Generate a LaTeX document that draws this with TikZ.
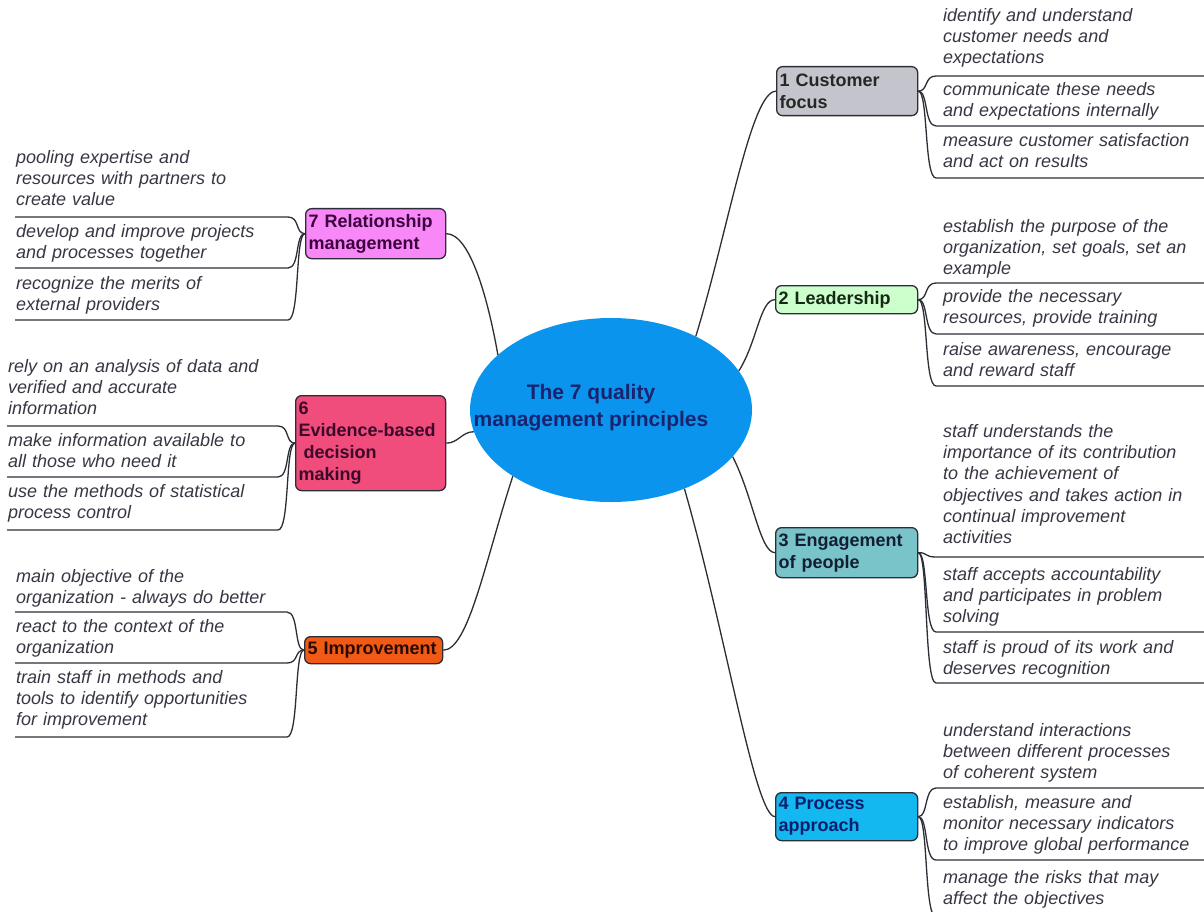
\documentclass[tikz,border=0pt]{standalone}
\usepackage{fontspec}
\setmainfont{Liberation Sans}
\usetikzlibrary{shapes.geometric}
\definecolor{linec}{RGB}{45,45,55}
\definecolor{leaftxt}{RGB}{55,55,68}
\definecolor{ellc}{RGB}{10,148,238}
\definecolor{ctxt}{RGB}{25,35,110}
\definecolor{c1}{RGB}{196,196,204}
\definecolor{c2}{RGB}{204,255,204}
\definecolor{c3}{RGB}{120,196,200}
\definecolor{c4}{RGB}{20,184,240}
\definecolor{c5}{RGB}{240,90,20}
\definecolor{c6}{RGB}{240,76,124}
\definecolor{c7}{RGB}{248,136,248}
\tikzset{
  leaf/.style={inner sep=0pt, text width=300pt, align=left,
    font=\fontsize{18}{21.2}\selectfont\itshape, text=leaftxt},
  link/.style={draw=linec, line width=1.3pt},
  topic/.style={draw=linec, line width=1.3pt, rounded corners=6pt,
    inner xsep=3pt, inner ysep=2pt, align=left, anchor=north west,
    font=\fontsize{18}{22}\selectfont\bfseries},
}
\newcommand{\rleaf}[5]{%
  \node[leaf, anchor=base west] (#1) at (943,#3+5.5) {#5};
  \coordinate (#1s) at (936,#4);
  \coordinate (#1e) at (1204,#4);
  \draw[link] (#2.east) to[out=0,in=180,out distance=10pt,in distance=12pt] (#1s) -- (#1e);
}
\newcommand{\lleaf}[7]{%
  \node[leaf, anchor=base west] (#1) at (#5+1,#3+5.5) {#7};
  \coordinate (#1s) at (#6,#4);
  \coordinate (#1e) at (#5,#4);
  \draw[link] (#2.west) to[out=180,in=0,out distance=10pt,in distance=12pt] (#1s) -- (#1e);
}
\begin{document}
\begin{tikzpicture}[x=1pt,y=-1pt]
\useasboundingbox[fill=white] (0,0) rectangle (1204,912);

% centre
\node[ellipse, fill=ellc, minimum width=282pt, minimum height=184pt, inner sep=0pt] (c) at (611,410) {};
\node[font=\fontsize{21}{27}\selectfont\bfseries, text=ctxt, align=center, inner sep=0pt] (ct) at (591,408) {The 7 quality\\management principles};

% topics
\node[topic, fill=c1, text=black!85, minimum width=141pt, minimum height=49pt, text width=135pt] (n1) at (776,66) {1 Customer\\focus};
\node[topic, fill=c2, text={rgb,255:red,20;green,40;blue,20}, minimum width=142pt, minimum height=28pt, text width=136pt] (n2) at (775,285) {2 Leadership};
\node[topic, fill=c3, text={rgb,255:red,20;green,30;blue,50}, minimum width=142pt, minimum height=50pt, text width=136pt] (n3) at (775,527) {3 Engagement\\of people};
\node[topic, fill=c4, text={rgb,255:red,10;green,30;blue,110}, minimum width=142pt, minimum height=48pt, text width=136pt] (n4) at (775,792) {4 Process\\approach};
\node[topic, fill=c5, text={rgb,255:red,40;green,10;blue,0}, minimum width=138pt, minimum height=27pt, text width=132pt] (n5) at (304,636) {5 Improvement};
\node[topic, fill=c6, text={rgb,255:red,60;green,10;blue,40}, minimum width=150pt, minimum height=95pt, text width=144pt] (n6) at (295,395) {6\\Evidence-based\\\hspace*{0.28em}decision\\making};
\node[topic, fill=c7, text={rgb,255:red,60;green,0;blue,60}, minimum width=140pt, minimum height=50pt, text width=134pt] (n7) at (305,208) {7 Relationship\\management};

% main connectors
\draw[link] (c.41.8) to[out=73,in=180,out distance=110pt,in distance=25pt] (n1.west);
\draw[link] (c.17.4) to[out=58,in=180,out distance=35pt,in distance=15pt] (n2.west);
\draw[link] (c.-21) to[out=-63,in=180,out distance=45pt,in distance=15pt] (n3.west);
\draw[link] (c.-47.3) to[out=-74,in=180,out distance=150pt,in distance=20pt] (n4.west);
\draw[link] (c.154.2) to[out=100,in=0,out distance=50pt,in distance=25pt] (n7.east);
\draw[link] (c.189.4) to[out=180,in=0,out distance=12pt,in distance=12pt] (n6.east);
\draw[link] (c.214) to[out=-108,in=0,out distance=90pt,in distance=25pt] (n5.east);

% right leaves
\rleaf{l1a}{n1}{16}{76}{identify and understand\\customer needs and\\expectations}
\rleaf{l1b}{n1}{90}{126}{communicate these needs\\and expectations internally}
\rleaf{l1c}{n1}{141}{178}{measure customer satisfaction\\and act on results}
\rleaf{l2a}{n2}{227}{283}{establish the purpose of the\\organization, set goals, set an\\example}
\rleaf{l2b}{n2}{297}{334}{provide the necessary\\resources, provide training}
\rleaf{l2c}{n2}{350}{386}{raise awareness, encourage\\and reward staff}
\rleaf{l3a}{n3}{432}{557}{staff understands the\\importance of its contribution\\to the achievement of\\objectives and takes action in\\continual improvement\\activities}
\rleaf{l3b}{n3}{575}{632}{staff accepts accountability\\and participates in problem\\solving}
\rleaf{l3c}{n3}{648}{683}{staff is proud of its work and\\deserves recognition}
\rleaf{l4a}{n4}{731}{788}{understand interactions\\between different processes\\of coherent system}
\rleaf{l4b}{n4}{803}{860}{establish, measure and\\monitor necessary indicators\\to improve global performance}
\rleaf{l4c}{n4}{878}{917}{manage the risks that may\\affect the objectives}

% left leaves
\lleaf{l7a}{n7}{158}{217}{15}{288}{pooling expertise and\\resources with partners to\\create value}
\lleaf{l7b}{n7}{232}{268}{15}{288}{develop and improve projects\\and processes together}
\lleaf{l7c}{n7}{284}{320}{15}{288}{recognize the merits of\\external providers}
\lleaf{l6a}{n6}{367}{426}{7}{278}{rely on an analysis of data and\\verified and accurate\\information}
\lleaf{l6b}{n6}{441}{477}{7}{278}{make information available to\\all those who need it}
\lleaf{l6c}{n6}{492}{530}{7}{278}{use the methods of statistical\\process control}
\lleaf{l5a}{n5}{577}{612}{15}{287}{main objective of the\\organization - always do better}
\lleaf{l5b}{n5}{627}{663}{15}{287}{react to the context of the\\organization}
\lleaf{l5c}{n5}{678}{737}{15}{287}{train staff in methods and\\tools to identify opportunities\\for improvement}
\end{tikzpicture}
\end{document}
